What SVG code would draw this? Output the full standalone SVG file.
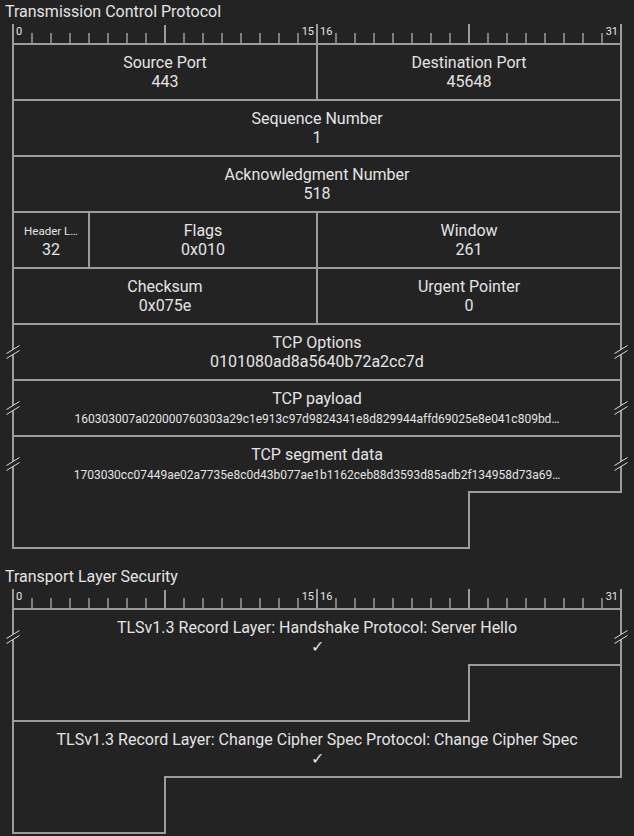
<svg xmlns="http://www.w3.org/2000/svg" xmlns:xlink="http://www.w3.org/1999/xlink" width="634" height="836" viewBox="0 0 634 836">
<style>
  .bg{fill:#232323}
  .ln{fill:none;stroke:#9c9c9c;stroke-width:2}
  .tk{stroke:#9c9c9c;stroke-width:1.5}
  .tkM{stroke:#9c9c9c;stroke-width:2}
  text{font-family:Roboto,"Liberation Sans",sans-serif;fill:#e4e4e4}
  .title{font-size:16px}
  .lbl{font-size:16px;text-anchor:middle}
  .sm{font-size:11.5px;text-anchor:middle}
  .hex{font-size:12px;text-anchor:middle}
  .num{font-size:11px}
  .brkline{stroke:#dedede;stroke-width:1}
</style>
<defs>
  <g id="brk">
    <polygon points="-6.5,1.5 6.5,-6.5 6.5,-1.5 -6.5,6.5" fill="#232323"/>
    <line class="brkline" x1="-6.5" y1="1.5" x2="6.5" y2="-6.5"/>
    <line class="brkline" x1="-6.5" y1="6.5" x2="6.5" y2="-1.5"/>
  </g>
  <g id="ruler">
    <line class="tkM" x1="12" y1="44" x2="622" y2="44"/>
    <path class="tkM" d="M13 24V44M165 25V44M317 24V44M469 24V44M621 24V44"/>
    <path class="tk" d="M32 33V44M51 33V44M70 33V44M89 33V44M108 33V44M127 33V44M146 33V44M184 33V44M203 33V44M222 33V44M241 33V44M260 33V44M279 33V44M298 33V44M336 33V44M355 33V44M374 33V44M393 33V44M412 33V44M431 33V44M450 33V44M488 33V44M507 33V44M526 33V44M545 33V44M564 33V44M583 33V44M602 33V44"/>
    <text class="num" x="16" y="35">0</text>
    <text class="num" x="314" y="35" text-anchor="end">15</text>
    <text class="num" x="320" y="35">16</text>
    <text class="num" x="618" y="35" text-anchor="end">31</text>
  </g>
</defs>
<rect class="bg" x="0" y="0" width="634" height="836"/>

<!-- TCP -->
<text class="title" x="5" y="17">Transmission Control Protocol</text>
<use href="#ruler"/>

<g id="src-port">
  <rect class="ln" x="13" y="44" width="304" height="56"/>
  <text class="lbl" x="165" y="68">Source Port</text>
  <text class="lbl" x="165" y="87">443</text>
</g>
<g id="dst-port">
  <rect class="ln" x="317" y="44" width="304" height="56"/>
  <text class="lbl" x="469" y="68">Destination Port</text>
  <text class="lbl" x="469" y="87">45648</text>
</g>
<g id="seq">
  <rect class="ln" x="13" y="100" width="608" height="56"/>
  <text class="lbl" x="317" y="124">Sequence Number</text>
  <text class="lbl" x="317" y="143">1</text>
</g>
<g id="ack">
  <rect class="ln" x="13" y="156" width="608" height="56"/>
  <text class="lbl" x="317" y="180">Acknowledgment Number</text>
  <text class="lbl" x="317" y="199">518</text>
</g>
<g id="hdr-len">
  <rect class="ln" x="13" y="212" width="76" height="56"/>
  <text class="sm" x="51" y="235">Header L…</text>
  <text class="lbl" x="51" y="255">32</text>
</g>
<g id="flags">
  <rect class="ln" x="89" y="212" width="228" height="56"/>
  <text class="lbl" x="203" y="236">Flags</text>
  <text class="lbl" x="203" y="255">0x010</text>
</g>
<g id="window">
  <rect class="ln" x="317" y="212" width="304" height="56"/>
  <text class="lbl" x="469" y="236">Window</text>
  <text class="lbl" x="469" y="255">261</text>
</g>
<g id="checksum">
  <rect class="ln" x="13" y="268" width="304" height="56"/>
  <text class="lbl" x="165" y="292">Checksum</text>
  <text class="lbl" x="165" y="311">0x075e</text>
</g>
<g id="urgent">
  <rect class="ln" x="317" y="268" width="304" height="56"/>
  <text class="lbl" x="469" y="292">Urgent Pointer</text>
  <text class="lbl" x="469" y="311">0</text>
</g>
<g id="options">
  <rect class="ln" x="13" y="324" width="608" height="56"/>
  <text class="lbl" x="317" y="348">TCP Options</text>
  <text class="lbl" x="317" y="367">0101080ad8a5640b72a2cc7d</text>
</g>
<g id="payload">
  <rect class="ln" x="13" y="380" width="608" height="56"/>
  <text class="lbl" x="317" y="404">TCP payload</text>
  <text class="hex" x="317" y="423">160303007a020000760303a29c1e913c97d9824341e8d829944affd69025e8e041c809bd…</text>
</g>
<g id="segment">
  <path class="ln" d="M13 436H621V492H469V548H13Z"/>
  <text class="lbl" x="317" y="460">TCP segment data</text>
  <text class="hex" x="317" y="479">1703030cc07449ae02a7735e8c0d43b077ae1b1162ceb88d3593d85adb2f134958d73a69…</text>
</g>
<g id="tcp-breaks">
  <use href="#brk" x="13" y="352"/>
  <use href="#brk" x="621" y="352"/>
  <use href="#brk" x="13" y="408"/>
  <use href="#brk" x="621" y="408"/>
  <use href="#brk" x="13" y="464"/>
  <use href="#brk" x="621" y="464"/>
</g>

<!-- TLS -->
<text class="title" x="5" y="582">Transport Layer Security</text>
<use href="#ruler" y="565"/>

<g id="tls-rec1">
  <path class="ln" d="M13 609H621V665H469V721H13Z"/>
  <text class="lbl" x="317" y="633">TLSv1.3 Record Layer: Handshake Protocol: Server Hello</text>
  <text class="lbl" x="317" y="652">✓</text>
</g>
<g id="tls-rec2">
  <path class="ln" d="M469 665H621V777H165V833H13V721H469Z"/>
  <text class="lbl" x="317" y="745">TLSv1.3 Record Layer: Change Cipher Spec Protocol: Change Cipher Spec</text>
  <text class="lbl" x="317" y="764">✓</text>
</g>
<g id="tls-breaks">
  <use href="#brk" x="13" y="637"/>
  <use href="#brk" x="621" y="637"/>
</g>
</svg>
